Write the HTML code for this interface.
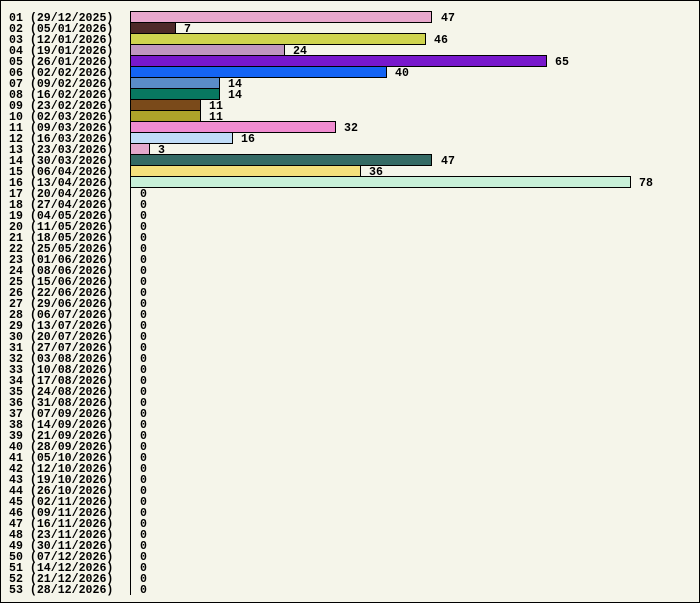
<!DOCTYPE html>
<html><head><meta charset="utf-8"><style>
html,body{margin:0;padding:0;background:#f5f5ea}
svg{display:block}
text{font-family:"Liberation Mono",monospace;font-weight:bold;font-size:11.6px;fill:#000}
</style></head><body>
<svg width="700" height="603" xmlns="http://www.w3.org/2000/svg">
<rect x="0.5" y="0.5" width="699" height="602" fill="#f5f5ea" stroke="#000"/>
<g stroke="#000" stroke-width="1">
<rect x="130.5" y="11.5" width="301" height="11" fill="#e8a8cc"/>
<rect x="130.5" y="22.5" width="45" height="11" fill="#4e2a28"/>
<rect x="130.5" y="33.5" width="295" height="11" fill="#cfd44f"/>
<rect x="130.5" y="44.5" width="154" height="11" fill="#c096c0"/>
<rect x="130.5" y="55.5" width="416" height="11" fill="#7818cc"/>
<rect x="130.5" y="66.5" width="256" height="11" fill="#1464f4"/>
<rect x="130.5" y="77.5" width="89" height="11" fill="#5a8cc8"/>
<rect x="130.5" y="88.5" width="89" height="11" fill="#087860"/>
<rect x="130.5" y="99.5" width="70" height="11" fill="#7a4a1a"/>
<rect x="130.5" y="110.5" width="70" height="11" fill="#aea42a"/>
<rect x="130.5" y="121.5" width="205" height="11" fill="#f08cd0"/>
<rect x="130.5" y="132.5" width="102" height="11" fill="#c0dcf8"/>
<rect x="130.5" y="143.5" width="19" height="11" fill="#e4a8cc"/>
<rect x="130.5" y="154.5" width="301" height="11" fill="#346a64"/>
<rect x="130.5" y="165.5" width="230" height="11" fill="#f4e07c"/>
<rect x="130.5" y="176.5" width="500" height="11" fill="#c8f0d8"/>
<line x1="130.5" y1="11" x2="130.5" y2="595"/>
</g>
<g>
<text x="441" y="21">47</text>
<text x="184" y="32">7</text>
<text x="434" y="43">46</text>
<text x="293" y="54">24</text>
<text x="555" y="65">65</text>
<text x="395" y="76">40</text>
<text x="228" y="87">14</text>
<text x="228" y="98">14</text>
<text x="209" y="109">11</text>
<text x="209" y="120">11</text>
<text x="344" y="131">32</text>
<text x="241" y="142">16</text>
<text x="158" y="153">3</text>
<text x="441" y="164">47</text>
<text x="369" y="175">36</text>
<text x="639" y="186">78</text>
</g>
<g>
<text x="140" y="197">0</text><text x="140" y="208">0</text><text x="140" y="219">0</text><text x="140" y="230">0</text>
<text x="140" y="241">0</text><text x="140" y="252">0</text><text x="140" y="263">0</text><text x="140" y="274">0</text>
<text x="140" y="285">0</text><text x="140" y="296">0</text><text x="140" y="307">0</text><text x="140" y="318">0</text>
<text x="140" y="329">0</text><text x="140" y="340">0</text><text x="140" y="351">0</text><text x="140" y="362">0</text>
<text x="140" y="373">0</text><text x="140" y="384">0</text><text x="140" y="395">0</text><text x="140" y="406">0</text>
<text x="140" y="417">0</text><text x="140" y="428">0</text><text x="140" y="439">0</text><text x="140" y="450">0</text>
<text x="140" y="461">0</text><text x="140" y="472">0</text><text x="140" y="483">0</text><text x="140" y="494">0</text>
<text x="140" y="505">0</text><text x="140" y="516">0</text><text x="140" y="527">0</text><text x="140" y="538">0</text>
<text x="140" y="549">0</text><text x="140" y="560">0</text><text x="140" y="571">0</text><text x="140" y="582">0</text>
<text x="140" y="593">0</text>
</g>
<g>
<text x="9" y="21">01 (29/12/2025)</text>
<text x="9" y="32">02 (05/01/2026)</text>
<text x="9" y="43">03 (12/01/2026)</text>
<text x="9" y="54">04 (19/01/2026)</text>
<text x="9" y="65">05 (26/01/2026)</text>
<text x="9" y="76">06 (02/02/2026)</text>
<text x="9" y="87">07 (09/02/2026)</text>
<text x="9" y="98">08 (16/02/2026)</text>
<text x="9" y="109">09 (23/02/2026)</text>
<text x="9" y="120">10 (02/03/2026)</text>
<text x="9" y="131">11 (09/03/2026)</text>
<text x="9" y="142">12 (16/03/2026)</text>
<text x="9" y="153">13 (23/03/2026)</text>
<text x="9" y="164">14 (30/03/2026)</text>
<text x="9" y="175">15 (06/04/2026)</text>
<text x="9" y="186">16 (13/04/2026)</text>
<text x="9" y="197">17 (20/04/2026)</text>
<text x="9" y="208">18 (27/04/2026)</text>
<text x="9" y="219">19 (04/05/2026)</text>
<text x="9" y="230">20 (11/05/2026)</text>
<text x="9" y="241">21 (18/05/2026)</text>
<text x="9" y="252">22 (25/05/2026)</text>
<text x="9" y="263">23 (01/06/2026)</text>
<text x="9" y="274">24 (08/06/2026)</text>
<text x="9" y="285">25 (15/06/2026)</text>
<text x="9" y="296">26 (22/06/2026)</text>
<text x="9" y="307">27 (29/06/2026)</text>
<text x="9" y="318">28 (06/07/2026)</text>
<text x="9" y="329">29 (13/07/2026)</text>
<text x="9" y="340">30 (20/07/2026)</text>
<text x="9" y="351">31 (27/07/2026)</text>
<text x="9" y="362">32 (03/08/2026)</text>
<text x="9" y="373">33 (10/08/2026)</text>
<text x="9" y="384">34 (17/08/2026)</text>
<text x="9" y="395">35 (24/08/2026)</text>
<text x="9" y="406">36 (31/08/2026)</text>
<text x="9" y="417">37 (07/09/2026)</text>
<text x="9" y="428">38 (14/09/2026)</text>
<text x="9" y="439">39 (21/09/2026)</text>
<text x="9" y="450">40 (28/09/2026)</text>
<text x="9" y="461">41 (05/10/2026)</text>
<text x="9" y="472">42 (12/10/2026)</text>
<text x="9" y="483">43 (19/10/2026)</text>
<text x="9" y="494">44 (26/10/2026)</text>
<text x="9" y="505">45 (02/11/2026)</text>
<text x="9" y="516">46 (09/11/2026)</text>
<text x="9" y="527">47 (16/11/2026)</text>
<text x="9" y="538">48 (23/11/2026)</text>
<text x="9" y="549">49 (30/11/2026)</text>
<text x="9" y="560">50 (07/12/2026)</text>
<text x="9" y="571">51 (14/12/2026)</text>
<text x="9" y="582">52 (21/12/2026)</text>
<text x="9" y="593">53 (28/12/2026)</text>
</g>
</svg>
</body></html>
